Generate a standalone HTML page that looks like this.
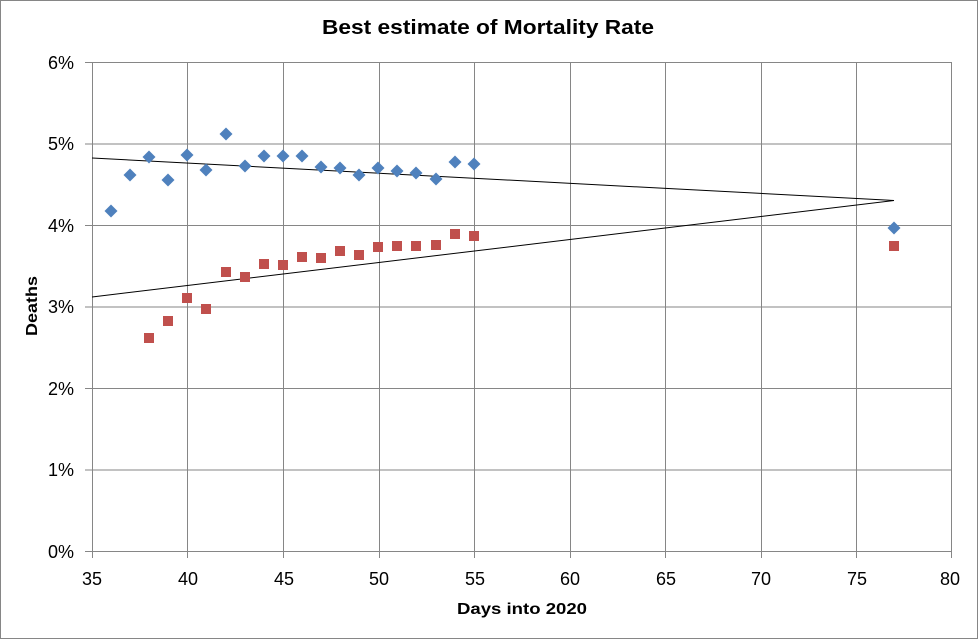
<!DOCTYPE html>
<html><head><meta charset="utf-8"><style>body{margin:0;background:#fff}svg{display:block}</style></head><body>
<svg width="978" height="639" xmlns="http://www.w3.org/2000/svg" font-family="Liberation Sans, sans-serif">
<defs><path id="d" d="M0,-6.5L6.5,0L0,6.5L-6.5,0Z"/></defs>
<rect x="0.5" y="0.5" width="977" height="638" fill="#fff" stroke="#868686"/>
<g stroke="#868686" stroke-width="1">
<line x1="85" y1="62.5" x2="952" y2="62.5"/><line x1="85" y1="144" x2="952" y2="144"/><line x1="85" y1="225.5" x2="952" y2="225.5"/><line x1="85" y1="307" x2="952" y2="307"/><line x1="85" y1="388.5" x2="952" y2="388.5"/><line x1="85" y1="470" x2="952" y2="470"/><line x1="85" y1="551.5" x2="952" y2="551.5"/>
<line x1="92.5" y1="62" x2="92.5" y2="558"/><line x1="187.5" y1="62" x2="187.5" y2="558"/><line x1="283.5" y1="62" x2="283.5" y2="558"/><line x1="379.5" y1="62" x2="379.5" y2="558"/><line x1="474.5" y1="62" x2="474.5" y2="558"/><line x1="570.5" y1="62" x2="570.5" y2="558"/><line x1="665.5" y1="62" x2="665.5" y2="558"/><line x1="761.5" y1="62" x2="761.5" y2="558"/><line x1="856.5" y1="62" x2="856.5" y2="558"/><line x1="951.5" y1="62" x2="951.5" y2="558"/>
</g>
<g font-size="18" fill="#000" text-anchor="end">
<text x="74" y="69">6%</text><text x="74" y="150">5%</text><text x="74" y="232">4%</text><text x="74" y="313">3%</text><text x="74" y="395">2%</text><text x="74" y="476">1%</text><text x="74" y="558">0%</text>
</g>
<g font-size="18" fill="#000" text-anchor="middle">
<text x="92" y="585">35</text><text x="188" y="585">40</text><text x="284" y="585">45</text><text x="379" y="585">50</text><text x="475" y="585">55</text><text x="570" y="585">60</text><text x="666" y="585">65</text><text x="761" y="585">70</text><text x="857" y="585">75</text><text x="950" y="585">80</text>
</g>
<text x="488" y="34" font-size="20" font-weight="bold" text-anchor="middle" textLength="332" lengthAdjust="spacingAndGlyphs">Best estimate of Mortality Rate</text>
<text x="522" y="614" font-size="16" font-weight="bold" text-anchor="middle" textLength="130" lengthAdjust="spacingAndGlyphs">Days into 2020</text>
<text transform="translate(37,306) rotate(-90)" font-size="16" font-weight="bold" text-anchor="middle" textLength="60" lengthAdjust="spacingAndGlyphs">Deaths</text>
<line x1="92" y1="158" x2="894" y2="200.5" stroke="#000" stroke-width="1"/>
<line x1="92" y1="297" x2="894" y2="200.5" stroke="#000" stroke-width="1"/>
<g fill="#4f81bd">
<use href="#d" x="111" y="211"/><use href="#d" x="130" y="175"/><use href="#d" x="149" y="157"/><use href="#d" x="168" y="180"/><use href="#d" x="187" y="155"/><use href="#d" x="206" y="170"/><use href="#d" x="226" y="134"/><use href="#d" x="245" y="166"/><use href="#d" x="264" y="156"/><use href="#d" x="283" y="156"/><use href="#d" x="302" y="156"/><use href="#d" x="321" y="167"/><use href="#d" x="340" y="168"/><use href="#d" x="359" y="175"/><use href="#d" x="378" y="168"/><use href="#d" x="397" y="171"/><use href="#d" x="416" y="173"/><use href="#d" x="436" y="179"/><use href="#d" x="455" y="162"/><use href="#d" x="474" y="164"/><use href="#d" x="894" y="228"/>
</g>
<g fill="#c0504d">
<rect x="144" y="333" width="10" height="10"/>
<rect x="163" y="316" width="10" height="10"/>
<rect x="182" y="293" width="10" height="10"/>
<rect x="201" y="304" width="10" height="10"/>
<rect x="221" y="267" width="10" height="10"/>
<rect x="240" y="272" width="10" height="10"/>
<rect x="259" y="259" width="10" height="10"/>
<rect x="278" y="260" width="10" height="10"/>
<rect x="297" y="252" width="10" height="10"/>
<rect x="316" y="253" width="10" height="10"/>
<rect x="335" y="246" width="10" height="10"/>
<rect x="354" y="250" width="10" height="10"/>
<rect x="373" y="242" width="10" height="10"/>
<rect x="392" y="241" width="10" height="10"/>
<rect x="411" y="241" width="10" height="10"/>
<rect x="431" y="240" width="10" height="10"/>
<rect x="450" y="229" width="10" height="10"/>
<rect x="469" y="231" width="10" height="10"/>
<rect x="889" y="241" width="10" height="10"/>
</g>
</svg>
</body></html>
